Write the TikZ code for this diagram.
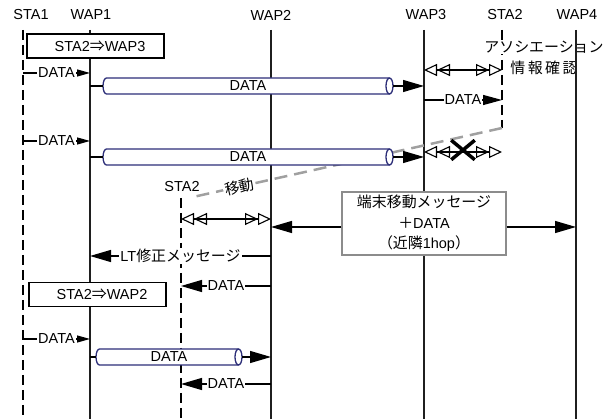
\documentclass[tikz,border=0pt]{standalone}
\usepackage{fontspec}
\setmainfont{Liberation Sans}
\newfontfamily\jp{Noto Sans CJK JP}[Scale=1.03]
\usetikzlibrary{arrows.meta,shapes.misc}
\definecolor{tubeblue}{RGB}{44,46,120}
\definecolor{movegray}{RGB}{160,160,160}

% horizontal data tube: name, left x, right x, centre y, text
\newcommand\datatube[5]{%
  \fill[white] (#2+3.5,#4-8) arc[start angle=90,end angle=270,x radius=3.5pt,y radius=8pt]
    -- (#3-3.5,#4+8) -- (#3-3.5,#4-8) -- cycle;
  \draw[tubeline] (#3-3.5,#4-8) -- (#2+3.5,#4-8)
    arc[start angle=90,end angle=270,x radius=3.5pt,y radius=8pt] -- (#3-3.5,#4+8);
  \draw[tubeline,fill=white] (#3-3.5,#4) ellipse[x radius=3.5pt,y radius=8pt];
  \node (#1) at ({(#2+#3)/2},#4) {#5};
  \coordinate (#1-w) at (#2,#4);
  \coordinate (#1-e) at (#3,#4);
}

\begin{document}
\begin{tikzpicture}[x=1pt,y=-1pt,
  every node/.style={font=\fontsize{14.5}{16}\selectfont, inner sep=1pt},
  life/.style={line width=1.5pt, draw=black!88},
  stalife/.style={line width=2pt, dash pattern=on 10pt off 5pt},
  plain/.style={line width=1.2pt},
  msg/.style={line width=1.2pt, -{Triangle[length=13pt,width=7pt]}},
  midmsg/.style={line width=1.2pt, -{Triangle[length=19pt,width=10pt]}},
  bigmsg/.style={line width=1.2pt, -{Triangle[length=21pt,width=12pt]}},
  lbl/.style={fill=white, inner sep=1pt},
  opentips/.style={line width=1.1pt,
    {Triangle[open,length=13pt,width=12pt]Triangle[open,length=13pt,width=12pt]}-{Triangle[open,length=13pt,width=12pt]Triangle[open,length=13pt,width=12pt]}},
  tubeline/.style={draw=tubeblue, line width=1.3pt},
  notebox/.style={draw, line width=1.2pt, fill=white, minimum width=137pt, minimum height=24pt, inner sep=0pt},
]
\useasboundingbox (0,0) rectangle (608,419);

% column heads
\node (hsta1) at (31,15) {STA1};
\node (hwap1) at (91,15) {WAP1};
\node (hwap2) at (271,15) {WAP2};
\node (hwap3) at (426,15) {WAP3};
\node (hsta2) at (505,15) {STA2};
\node (hwap4) at (577,15) {WAP4};

\coordinate (bot) at (0,419);
\coordinate (sta1) at (23,30);
\coordinate (wap1) at (90,30);
\coordinate (wap2) at (271,30);
\coordinate (wap3) at (424,30);
\coordinate (sta2) at (502,30);
\coordinate (wap4) at (576,30);
\coordinate (mv) at (502,128);
\coordinate (mvend) at (193,197);
\coordinate (sta2b) at (181,198);

% lifelines
\draw[stalife] (sta1) -- (sta1 |- bot);
\draw[life] (wap1) -- (wap1 |- bot);
\draw[life] (wap2) -- (wap2 |- bot);
\draw[life] (wap3) -- (wap3 |- bot);
\draw[stalife] (sta2) -- (mv);
\draw[stalife] (sta2b) -- (sta2b |- bot);
\node (lsta2b) at (182,187) {STA2};

% association check note
\node[fill=white, inner sep=0.5pt] (assoc) at (544,47) {\jp アソシエーション};
\node (conf) at (544,68) {\jp 情\,報\,確\,認};
\draw[life] (wap4) -- (wap4 |- bot);

% STA2 moves
\draw[movegray, line width=2.5pt, dash pattern=on 13pt off 7pt] (mv) --
  node[pos=0.85, sloped, fill=white, text=black, inner sep=1.5pt] (move) {\jp 移動} (mvend);

% notes
\node[notebox] (n1) at (95.5,46) {\hspace{9pt}STA2{\jp ⇒}WAP3};
\node[notebox] (n2) at (97.5,294.5) {\hspace{9pt}STA2{\jp ⇒}WAP2};

% first exchange
\coordinate (r0) at (0,70);
\draw[opentips] (wap3 |- r0) -- (sta2 |- r0);
\coordinate (r1) at (0,73);
\draw[msg] (sta1 |- r1) -- node[lbl] {DATA} (wap1 |- r1);
\datatube{t1}{103}{393}{86}{DATA}
\draw[plain] (wap1 |- t1) -- (t1-w);
\draw[bigmsg] (t1-e) -- (wap3 |- t1);
\coordinate (r2) at (0,100);
\draw[midmsg] (wap3 |- r2) -- node[lbl] {DATA} (sta2 |- r2);

% second exchange
\coordinate (r3) at (0,141);
\draw[msg] (sta1 |- r3) -- node[lbl] {DATA} (wap1 |- r3);
\datatube{t2}{103}{393}{157}{DATA}
\draw[plain] (wap1 |- t2) -- (t2-w);
\draw[bigmsg] (t2-e) -- (wap3 |- t2);
\coordinate (r4) at (0,152);
\draw[opentips] (wap3 |- r4) -- (sta2 |- r4);
\node[cross out, draw, line width=3.5pt, minimum width=20pt, minimum height=16pt, inner sep=0pt] (lost) at (463,150) {};

% handover at WAP2
\coordinate (r5) at (0,219);
\draw[opentips] (sta2b |- r5) -- (wap2 |- r5);
\node[draw=black!45, line width=1.2pt, fill=white, minimum width=164pt, minimum height=63pt,
      align=center, inner sep=0pt, font=\fontsize{14.5}{20.5}\selectfont] (notice) at (424,223.5)
  {{\jp 端末移動メッセージ}\\{\jp ＋}DATA\\{\jp （近隣}1hop{\jp ）}};
\coordinate (r6) at (0,227);
\draw[bigmsg] (notice.west |- r6) -- (wap2 |- r6);
\draw[bigmsg] (notice.east |- r6) -- (wap4 |- r6);
\coordinate (r7) at (0,256);
\draw[bigmsg] (wap2 |- r7) -- node[lbl] {LT{\jp 修正メッセージ}} (wap1 |- r7);
\coordinate (r8) at (0,286);
\draw[bigmsg] (wap2 |- r8) -- node[lbl] {DATA} (sta2b |- r8);

% third exchange
\coordinate (r9) at (0,339);
\draw[msg] (sta1 |- r9) -- node[lbl] {DATA} (wap1 |- r9);
\datatube{t3}{96}{242}{357}{DATA}
\draw[plain] (wap1 |- t3) -- (t3-w);
\draw[bigmsg] (t3-e) -- (wap2 |- t3);
\coordinate (r10) at (0,384);
\draw[bigmsg] (wap2 |- r10) -- node[lbl] {DATA} (sta2b |- r10);
\end{tikzpicture}
\end{document}
